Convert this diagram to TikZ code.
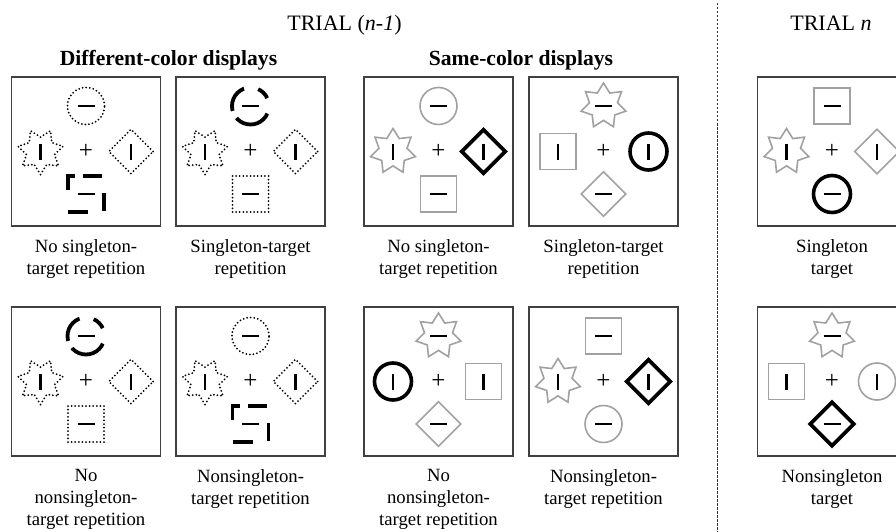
\documentclass[tikz,border=0pt]{standalone}
\usepackage{fontspec}
\setmainfont{Liberation Serif}
\usetikzlibrary{shapes.geometric,positioning}

\definecolor{distgray}{gray}{0.63}
\definecolor{framegray}{gray}{0.25}

\newcommand{\hbarline}{\rule{17pt}{2.3pt}}
\newcommand{\vbarline}{\rule{2.3pt}{16pt}}

% one search display: frame, fixation cross and four items
\newcommand{\display}[7]{%
  \node[panel] (#1) at (#2,#3) {};
  \node[fixcross] (#1x) at (#1) {+};
  \node[#4] (#1t) at ([yshift=45.5pt]#1.center) {\hbarline};
  \node[#5] (#1l) at ([xshift=-45.5pt]#1.center) {\vbarline};
  \node[#6] (#1r) at ([xshift=45pt]#1.center) {\vbarline};
  \node[#7] (#1b) at ([yshift=-42.5pt]#1.center) {\hbarline};
}

\tikzset{
  panel/.style={draw=framegray, line width=1.1pt, minimum size=149pt, inner sep=0pt},
  fixcross/.style={font=\fontsize{25}{25}\selectfont, inner sep=0pt},
  lbl/.style={align=center, font=\fontsize{18.7}{22}\selectfont, inner sep=0pt},
  hdr/.style={font=\fontsize{22}{26}\selectfont, inner sep=0pt, anchor=base},
  grouphdr/.style={font=\fontsize{21.6}{26}\selectfont\bfseries, inner sep=0pt, anchor=base},
  divider/.style={draw=black!80, line width=0.9pt, dash pattern=on 2.5pt off 1.5pt},
  stim/.style={inner sep=0pt},
  circ/.style={stim, circle, minimum size=37pt},
  sq/.style={stim, rectangle, minimum size=36pt},
  dia/.style={stim, diamond, minimum size=45pt},
  star7/.style={stim, star, star points=7, star point ratio=1.6, minimum size=46pt},
  stardn/.style={star7, shape border rotate=180},
  dotl/.style={draw=black, line width=2pt, line cap=round, dash pattern=on 0pt off 3.6pt},
  grayl/.style={draw=distgray, line width=1.6pt},
  tgtl/.style={draw=black, line width=3.6pt},
  dashcirc/.style={draw=black, line width=3.8pt,
    dash pattern=on 13pt off 14.5pt on 27.4pt off 8.1pt on 37.1pt off 16.1pt, dash phase=108.1pt},
  dashsq/.style={draw=black, line width=3.8pt,
    dash pattern=on 20pt off 17pt on 18pt off 19pt on 19pt off 8pt on 21pt off 26pt},
}

\begin{document}
\begin{tikzpicture}[x=1pt, y=-1pt]
  \useasboundingbox (0,0) rectangle (896,532);

  % headers
  \node[hdr] (prevhdr) at (344.5,31) {TRIAL (\textit{n-1})};
  \node[hdr] (currhdr) at (831,31) {TRIAL \textit{n}};
  \node[grouphdr] (diffhdr) at (168.5,66) {Different-color displays};
  \node[grouphdr] (samehdr) at (521,66) {Same-color displays};

  % trial n-1, first row
  \display{diffA}{86}{151.5}{circ,dotl}{stardn,dotl}{dia,dotl}{sq,dashsq}
  \display{diffB}{250.5}{151.5}{circ,dashcirc}{stardn,dotl}{dia,dotl}{sq,dotl}
  \display{sameA}{438.5}{151.5}{circ,grayl}{star7,grayl}{dia,tgtl}{sq,grayl}
  \display{sameB}{603.5}{151.5}{star7,grayl}{sq,grayl}{circ,tgtl}{dia,grayl}
  % trial n-1, second row
  \display{diffC}{86}{381.5}{circ,dashcirc}{stardn,dotl}{dia,dotl}{sq,dotl}
  \display{diffD}{250.5}{381.5}{circ,dotl}{stardn,dotl}{dia,dotl}{sq,dashsq}
  \display{sameC}{438.5}{381.5}{star7,grayl}{circ,tgtl}{sq,grayl}{dia,grayl}
  \display{sameD}{603.5}{381.5}{sq,grayl}{star7,grayl}{dia,tgtl}{circ,grayl}
  % trial n
  \display{singl}{832}{151.5}{sq,grayl}{star7,grayl}{dia,grayl}{circ,tgtl}
  \display{nonsingl}{832}{381.5}{star7,grayl}{sq,grayl}{circ,grayl}{dia,tgtl}

  % captions
  \node[lbl, below=12.5pt of diffA] (diffAlbl) {No singleton-\\target repetition};
  \node[lbl, below=12.5pt of diffB] (diffBlbl) {Singleton-target\\repetition};
  \node[lbl, below=12.5pt of sameA] (sameAlbl) {No singleton-\\target repetition};
  \node[lbl, below=12.5pt of sameB] (sameBlbl) {Singleton-target\\repetition};
  \node[lbl, below=12.5pt of diffC] (diffClbl) {No\\nonsingleton-\\target repetition};
  \node[lbl, below=12.5pt of diffD] (diffDlbl) {Nonsingleton-\\target repetition};
  \node[lbl, below=12.5pt of sameC] (sameClbl) {No\\nonsingleton-\\target repetition};
  \node[lbl, below=12.5pt of sameD] (sameDlbl) {Nonsingleton-\\target repetition};
  \node[lbl, below=12.5pt of singl] (singllbl) {Singleton\\target};
  \node[lbl, below=12.5pt of nonsingl] (nonsingllbl) {Nonsingleton\\target};

  % separator between trials
  \coordinate (divtop) at (717,3);
  \coordinate (divbot) at (717,532);
  \draw[divider] (divtop) -- (divbot);
\end{tikzpicture}
\end{document}
